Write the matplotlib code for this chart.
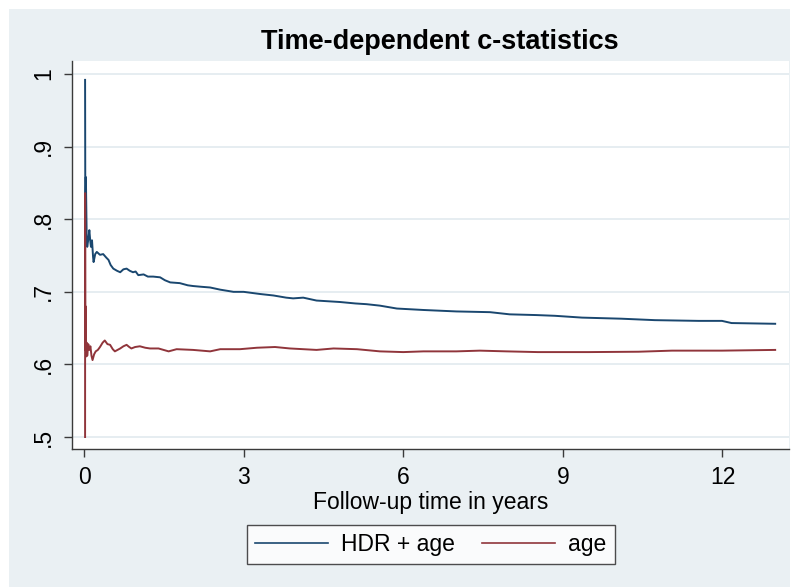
import numpy as np
import matplotlib
matplotlib.use("Agg")
import matplotlib.pyplot as plt
from matplotlib.patches import Rectangle

plt.rcParams['font.family'] = ['Liberation Sans', 'DejaVu Sans']

# HDR + age (time in years, c-statistic)
hdr_t = [0.02, 0.025, 0.035, 0.05, 0.06, 0.08, 0.10, 0.12, 0.13, 0.15, 0.17, 0.18,
         0.21, 0.24, 0.30, 0.36, 0.42, 0.46, 0.50, 0.55, 0.62, 0.68, 0.74, 0.80,
         0.86, 0.92, 0.97, 1.02, 1.12, 1.20, 1.30, 1.43, 1.52, 1.62, 1.80, 1.95,
         2.05, 2.20, 2.37, 2.56, 2.81, 3.00, 3.31, 3.56, 3.80, 3.93, 4.12, 4.37,
         4.81, 5.10, 5.31, 5.56, 5.88, 6.38, 7.00, 7.63, 8.00, 8.50, 8.85, 9.36,
         10.1, 10.73, 11.55, 11.99, 12.17, 12.99]
hdr_c = [0.992, 0.78, 0.858, 0.775, 0.762, 0.772, 0.785, 0.768, 0.762, 0.771, 0.748, 0.741,
         0.752, 0.755, 0.751, 0.752, 0.747, 0.744, 0.737, 0.732, 0.729, 0.727, 0.731, 0.732,
         0.729, 0.727, 0.728, 0.723, 0.724, 0.721, 0.721, 0.720, 0.716, 0.713, 0.712, 0.709,
         0.708, 0.707, 0.706, 0.703, 0.700, 0.700, 0.697, 0.695, 0.692, 0.691, 0.692, 0.688,
         0.686, 0.684, 0.683, 0.681, 0.677, 0.675, 0.673, 0.672, 0.669, 0.668, 0.667, 0.6645,
         0.663, 0.661, 0.660, 0.660, 0.657, 0.656]

# age only
age_t = [0.02, 0.021, 0.025, 0.03, 0.04, 0.05, 0.06, 0.08, 0.10, 0.12, 0.14, 0.16,
         0.19, 0.22, 0.26, 0.30, 0.35, 0.39, 0.44, 0.49, 0.54, 0.58, 0.63, 0.68,
         0.74, 0.80, 0.85, 0.89, 0.96, 1.05, 1.15, 1.24, 1.40, 1.59, 1.74, 2.05,
         2.37, 2.56, 2.81, 2.93, 3.25, 3.59, 3.87, 4.37, 4.69, 5.13, 5.56, 6.00,
         6.38, 7.00, 7.44, 7.94, 8.53, 9.48, 10.42, 11.05, 11.99, 12.99]
age_c = [0.500, 0.836, 0.62, 0.68, 0.611, 0.63, 0.612, 0.628, 0.62, 0.625, 0.612, 0.606,
         0.614, 0.618, 0.620, 0.624, 0.630, 0.633, 0.628, 0.627, 0.621, 0.618, 0.620, 0.622,
         0.625, 0.627, 0.624, 0.622, 0.624, 0.625, 0.623, 0.622, 0.622, 0.618, 0.621, 0.620,
         0.618, 0.621, 0.621, 0.621, 0.623, 0.624, 0.622, 0.620, 0.622, 0.621, 0.618, 0.617,
         0.618, 0.618, 0.619, 0.618, 0.617, 0.617, 0.6175, 0.619, 0.619, 0.620]

y_ticks = [0.5, 0.6, 0.7, 0.8, 0.9, 1.0]
y_labels = ['.5', '.6', '.7', '.8', '.9', '1']
x_ticks = [0, 3, 6, 9, 12]

bg = '#EAF0F3'
navy = '#1A476F'
maroon = '#90353B'

fig = plt.figure(figsize=(7.96, 5.87), dpi=100, facecolor='white')
fig.patches.append(Rectangle((9 / 796, 0), 781 / 796, 578 / 587,
                             transform=fig.transFigure, facecolor=bg,
                             edgecolor='none', zorder=-5))

ax = fig.add_axes([72 / 796, 1 - 449 / 587, 717 / 796, 388 / 587])
ax.set_facecolor('white')

ax.plot(hdr_t, hdr_c, color=navy, lw=1.4, label='HDR + age')
ax.plot(age_t, age_c, color=maroon, lw=1.4, label='age')

ax.set_xlim(-0.226, 13.25)
ax.set_ylim(0.4835, 1.018)
ax.set_xticks(x_ticks)
ax.set_yticks(y_ticks)
ax.set_yticklabels(y_labels, rotation=90, va='center')
ax.grid(axis='y', color='#E4ECF0', lw=1.3)
ax.set_axisbelow(True)

for s in ['top', 'right']:
    ax.spines[s].set_visible(False)
for s in ['left', 'bottom']:
    ax.spines[s].set_color('#3a3a3a')
    ax.spines[s].set_linewidth(1.0)
ax.tick_params(direction='out', length=6, width=1.0, color='#3a3a3a',
               labelsize=16.5, pad=6)

ax.set_xlabel('Follow-up time in years', fontsize=16.5, labelpad=2)
fig.text(440 / 796, 1 - 42 / 587, 'Time-dependent c-statistics',
         fontsize=19.5, fontweight='bold', ha='center', va='center')

leg = fig.legend(loc='center', bbox_to_anchor=(430.5 / 796, 1 - 544.5 / 587),
                 ncol=2, fontsize=16.5, frameon=True, fancybox=False,
                 handlelength=3.2, handletextpad=0.56, columnspacing=1.2,
                 borderpad=0.35)
leg.get_frame().set_edgecolor('#222222')
leg.get_frame().set_linewidth(1.0)
for line in leg.get_lines():
    line.set_linewidth(1.2)

fig.savefig('out.png', dpi=100, facecolor='white')
